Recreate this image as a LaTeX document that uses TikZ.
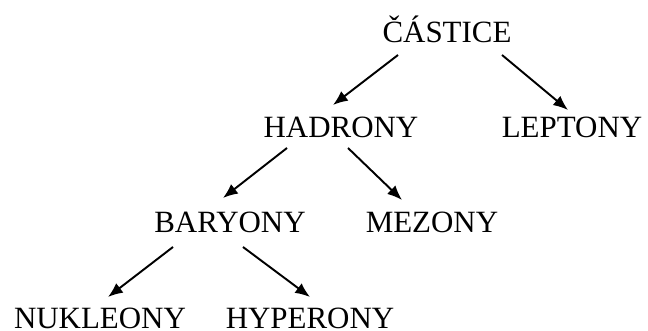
\documentclass[tikz,border=0pt]{standalone}
\usepackage{fontspec}
\setmainfont{Liberation Serif}
\usepackage{tikz}
\usetikzlibrary{arrows.meta,calc}

\begin{document}
\begin{tikzpicture}[x=0.01cm,y=-0.01cm,
  word/.style={anchor=base,inner sep=0pt,font=\fontsize{8.8}{10}\selectfont},
  tree/.style={-{Latex[length=4.2pt,width=3.4pt]},line width=0.55pt}]
\useasboundingbox (0,0) rectangle (648,331);
% Words
\node[word] (castice) at (447,43) {ČÁSTICE};
\node[word] (hadrony) at (341,138) {HADRONY};
\node[word] (leptony) at (572,138) {LEPTONY};
\node[word] (baryony) at (230,233) {BARYONY};
\node[word] (mezony) at (432,233) {MEZONY};
\node[word] (nukleony) at (100,329) {NUKLEONY};
\node[word] (hyperony) at (310,329) {HYPERONY};
% Arrows
\draw[tree] ($(castice.base)+(-49,12)$) -- ($(hadrony.base)+(-8,-33)$);
\draw[tree] ($(castice.base)+(55,12)$) -- ($(leptony.base)+(-4,-28)$);
\draw[tree] ($(hadrony.base)+(-54,10)$) -- ($(baryony.base)+(-7,-35)$);
\draw[tree] ($(hadrony.base)+(7,10)$) -- ($(mezony.base)+(-30,-33)$);
\draw[tree] ($(baryony.base)+(-57,14)$) -- ($(nukleony.base)+(8,-32)$);
\draw[tree] ($(baryony.base)+(13,14)$) -- ($(hyperony.base)+(0,-32)$);
\end{tikzpicture}
\end{document}
